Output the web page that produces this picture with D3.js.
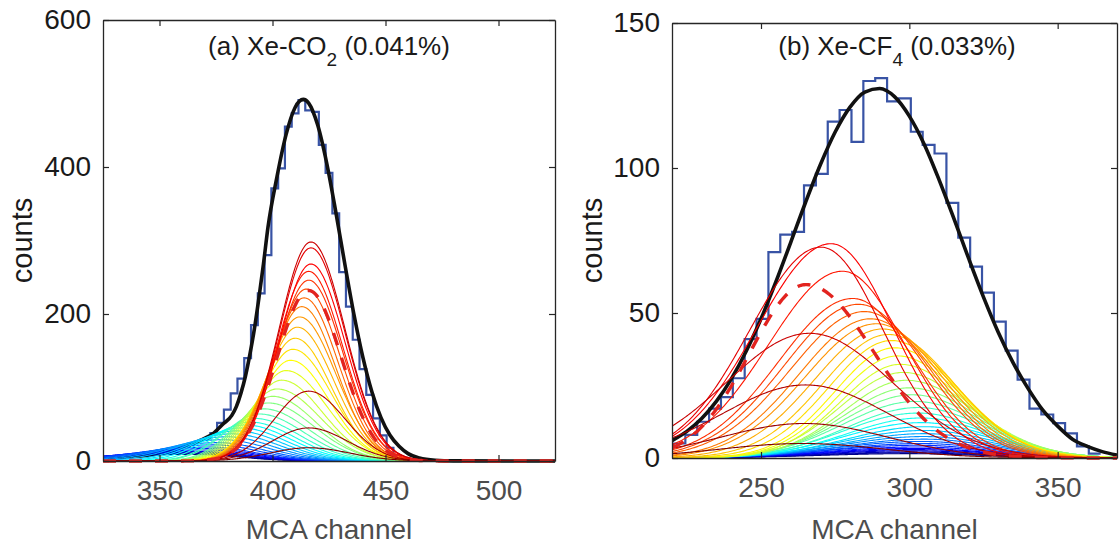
<!DOCTYPE html>
<html><head><meta charset="utf-8">
<script src="https://cdn.jsdelivr.net/npm/d3@7"></script>
<style>
body{margin:0;background:#fff}
text{font-family:"Liberation Sans",Arial,Helvetica,sans-serif}
</style>
</head><body>
<svg id="chart" width="1119" height="545"></svg>
<script>
// ---------------- Panel (a) Xe-CO2 data ----------------
const aXTicks = [350, 400, 450, 500];
const aYTicks = [0, 200, 400, 600];
const aHistEdges = [369.5,372.5,375.5,378.5,381.5,384.5,387.5,390.5,393.5,396.5,399.5,402.5,405.5,408.5,411.5,414.5,417.5,420.5,423.5,426.5,429.5,432.5,435.5,438.5,441.5,444.5,447.5,450.5,453.5,456.5,459.5];
const aHistCounts = [30,38,52,70,92,112,140,185,228,280,371,398,455,473,491,477,475,430,392,337,257,210,165,125,90,58,35,18,8,3];
const aFitChannels = [325,335,345,355,362,368,374,378,382,384,386,388,390,392,394,396,398,402,406,410,413.6,416,420,424,428,432,436,440,444,448,452,456,460,465,472,480,525];
const aFitCounts   = [3,5,8,13,20,28,38,50,62,74,92,115,145,180,222,268,318,387,444,481,492,487,457,405,339,268,200,141,94,59,35,20,10,4,1,0.2,0];
// family of model curves (blue -> red -> dark red): peak channel / peak counts / left & right widths
const aCurveCenters = [365,366,367,368,369,370,371,372,374,376,378,380,382,384,386,388,390,392,394,396,398,400,402,404,406,408,409,410,411,412,413,414,415,416,416,417,417,417,416,416,416];
const aCurveAmps    = [9,10,11,12,13,15,17,19,22,25,29,33,37,41,45,49,53,58,64,71,79,88,98,110,123,137,152,167,182,196,210,222,234,246,258,268,290,298,95,45,18];
const aCurveSigL    = [40,39,38,37,36,35,33,31,29,27,25,23,21,19,18,17,16,15,15,14,14,14,14,14,14,14,14,14,14,14,14,14,14,14,14,14,14,14,15,16,17];
const aCurveSigR    = [20,20,20,20,20,20,20,20,20,20,20,20,20,20,20,20,20,20,20,20,20,19,19,18,18,17,17,16,16,16,15,15,15,15,15,15,15,15,16,17,18];
const aDashCenter = 416, aDashAmp = 232, aDashSigL = 14, aDashSigR = 14.5;

// ---------------- Panel (b) Xe-CF4 data ----------------
const bXTicks = [250, 300, 350];
const bYTicks = [0, 50, 100, 150];
const bHistEdges = [216.5,220.5,224.5,228.5,232.5,236.5,240.5,244.5,248.5,252.5,256.5,260.5,264.5,268.5,272.5,276.5,280.5,284.5,288.5,292.5,296.5,300.5,304.5,308.5,312.5,316.5,320.5,324.5,328.5,332.5,336.5,340.5,344.5,348.5,352.5,356.5,360.5,364.5];
const bHistCounts = [4,5,8,12.5,17,21,27.5,41,48,71,77,78,94,98,116,120,109,130,131,123,124,112.5,108,105,88,76,66,57,47,37,27,17,15,12,8.5,4,1.5];
const bFitChannels = [220,225,230,235,240,245,250,255,260,265,270,275,280,285,290,295,300,305,310,315,320,325,330,335,340,345,350,355,360,365,370];
const bFitCounts   = [6.0,9.2,13.6,19.6,27.3,36.8,48.0,60.7,74.3,88.1,101.1,112.4,121.0,126.2,127.4,124.6,117.9,108.2,96.0,82.6,68.8,55.5,43.3,32.8,24.0,16.5,11.0,6.5,4.0,2.2,1.0];
const bCurveCenters = [300,300,301,301,302,302,303,303,304,304,305,305,305,305,305,304,304,303,303,302,301,300,299,298,297,296,295,294,293,291,289,287,285,283,281,277.5,273.6,270.2,266.3,265,264.6,264];
const bCurveAmps    = [1.5,1.8,2.1,2.5,2.9,3.3,3.8,4.4,5.0,5.7,6.5,7.4,8.4,9.5,10.8,12.2,13.8,15.5,17.4,19.5,21.8,24.2,26.8,29.5,32.3,35.2,38.0,40.5,42.6,44.5,46.3,48.0,50.5,53.0,55.0,64.4,73.9,72.7,43,25.2,11.9,5];
const bCurveSigL    = [30,30,30,30,30,30,30,30,29,29,28,28,27,27,26,26,25,25,24,24,23,22,21,21,20,20,20,21,22,23,24,24,25,25,25,25,25,24,28,28,28,28];
const bCurveSigR    = [24,24,24,24,24,24,24,24,24,24,24,24,24,24,24,24,23,23,23,23,23,23,23,22,22,22,22,22,22,22,22,22,22,22,21,21,21,21,28,28,28,28];
const bDashCenter = 265.2, bDashAmp = 59.8, bDashSigL = 19, bDashSigR = 23;

// ---------------- drawing ----------------
const svg = d3.select("#chart");
const jet = d3.scaleLinear()
  .domain([0, 0.125, 0.375, 0.625, 0.875, 1])
  .range(["#00007f", "#0000ff", "#00ffff", "#ffff00", "#ff0000", "#7f0000"])
  .interpolate(d3.interpolateRgb);

function profile(c, a, sl, sr, x) {
  const s = x < c ? sl : sr;
  return a * Math.exp(-((x - c) * (x - c)) / (2 * s * s));
}

function panel(cfg) {
  const x = d3.scaleLinear().domain(cfg.xDomain).range([cfg.left, cfg.right]);
  const y = d3.scaleLinear().domain(cfg.yDomain).range([cfg.bottom, cfg.top]);
  const g = svg.append("g");
  const clipId = "clip" + cfg.id;
  svg.append("clipPath").attr("id", clipId).append("rect")
    .attr("x", cfg.left).attr("y", cfg.top - 4)
    .attr("width", cfg.right - cfg.left).attr("height", cfg.bottom - cfg.top + 8);
  const plot = g.append("g").attr("clip-path", `url(#${clipId})`);
  const xs = d3.range(cfg.xDomain[0], cfg.xDomain[1] + 0.01, 0.5);
  const line = d3.line().x(d => x(d[0])).y(d => y(d[1]));

  // histogram (stairs)
  const stairs = [];
  cfg.histCounts.forEach((v, i) => {
    stairs.push([cfg.histEdges[i], v]);
    stairs.push([cfg.histEdges[i + 1], v]);
  });
  plot.append("path").attr("d", line(stairs)).attr("fill", "none")
    .attr("stroke", "#3853a5").attr("stroke-width", 2.2).attr("stroke-linejoin", "miter");

  // fit
  const fitPts = cfg.fitChannels.map((c, i) => [c, cfg.fitCounts[i]]);
  plot.append("path").attr("d", d3.line().x(d => x(d[0])).y(d => y(d[1])).curve(d3.curveMonotoneX)(fitPts))
    .attr("fill", "none").attr("stroke", "#111").attr("stroke-width", 3.6);

  // model curve family
  cfg.centers.forEach((c, i) => {
    const pts = xs.map(v => [v, profile(c, cfg.amps[i], cfg.sigL[i], cfg.sigR[i], v)]);
    plot.append("path").attr("d", line(pts)).attr("fill", "none")
      .attr("stroke", jet(i / (cfg.centers.length - 1))).attr("stroke-width", 1.1);
  });

  // dashed component
  const dpts = xs.map(v => [v, profile(cfg.dash[0], cfg.dash[1], cfg.dash[2], cfg.dash[3], v)]);
  plot.append("path").attr("d", line(dpts)).attr("fill", "none")
    .attr("stroke", "#e2231f").attr("stroke-width", 3.4).attr("stroke-dasharray", "13,13");

  // axes box with inward ticks
  const axCol = "#262626";
  const xb = g.append("g").attr("transform", `translate(0,${cfg.bottom})`)
    .call(d3.axisBottom(x).tickValues(cfg.xTicks).tickSize(-6).tickPadding(19).tickSizeOuter(0));
  const xt = g.append("g").attr("transform", `translate(0,${cfg.top})`)
    .call(d3.axisTop(x).tickValues(cfg.xTicks).tickSize(-6).tickFormat("").tickSizeOuter(0));
  const yl = g.append("g").attr("transform", `translate(${cfg.left},0)`)
    .call(d3.axisLeft(y).tickValues(cfg.yTicks).tickSize(-6).tickPadding(12).tickSizeOuter(0));
  const yr = g.append("g").attr("transform", `translate(${cfg.right},0)`)
    .call(d3.axisRight(y).tickValues(cfg.yTicks).tickSize(-6).tickFormat("").tickSizeOuter(0));
  [xb, xt, yl, yr].forEach(a => {
    a.select(".domain").attr("stroke", axCol).attr("stroke-width", 1.3);
    a.selectAll(".tick line").attr("stroke", axCol).attr("stroke-width", 1.2);
  });
  xb.selectAll(".tick text").attr("font-size", 28).attr("fill", "#4d4d4d")
    .attr("font-family", '"Liberation Sans",Arial,sans-serif');
  yl.selectAll(".tick text").attr("font-size", 28).attr("fill", "#1a1a1a")
    .attr("font-family", '"Liberation Sans",Arial,sans-serif');

  // labels
  g.append("text").attr("x", (cfg.left + cfg.right) / 2).attr("y", 539)
    .attr("text-anchor", "middle").attr("font-size", 28).attr("fill", "#4d4d4d").text("MCA channel");
  g.append("text").attr("transform", `translate(${cfg.ylabX},${(cfg.top + cfg.bottom) / 2}) rotate(-90)`)
    .attr("text-anchor", "middle").attr("font-size", 29).attr("fill", "#1a1a1a").text("counts");
  const t = g.append("text").attr("x", cfg.titleX).attr("y", 55)
    .attr("text-anchor", "middle").attr("font-size", 26).attr("fill", "#1a1a1a");
  t.append("tspan").text(cfg.title[0]);
  t.append("tspan").attr("dy", 11).attr("font-size", 19).text(cfg.title[1]);
  t.append("tspan").attr("dy", -11).text(cfg.title[2]);
}

panel({
  id: "a", left: 103, right: 555, top: 20, bottom: 461,
  xDomain: [325, 525], yDomain: [0, 600], xTicks: aXTicks, yTicks: aYTicks,
  histEdges: aHistEdges, histCounts: aHistCounts,
  fitChannels: aFitChannels, fitCounts: aFitCounts,
  centers: aCurveCenters, amps: aCurveAmps, sigL: aCurveSigL, sigR: aCurveSigR,
  dash: [aDashCenter, aDashAmp, aDashSigL, aDashSigR],
  ylabX: 32, titleX: 329, title: ["(a) Xe-CO", "2", " (0.041%)"]
});
panel({
  id: "b", left: 672, right: 1117, top: 23, bottom: 458,
  xDomain: [220, 370], yDomain: [0, 150], xTicks: bXTicks, yTicks: bYTicks,
  histEdges: bHistEdges, histCounts: bHistCounts,
  fitChannels: bFitChannels, fitCounts: bFitCounts,
  centers: bCurveCenters, amps: bCurveAmps, sigL: bCurveSigL, sigR: bCurveSigR,
  dash: [bDashCenter, bDashAmp, bDashSigL, bDashSigR],
  ylabX: 602, titleX: 897, title: ["(b) Xe-CF", "4", " (0.033%)"]
});
</script>
</body></html>
